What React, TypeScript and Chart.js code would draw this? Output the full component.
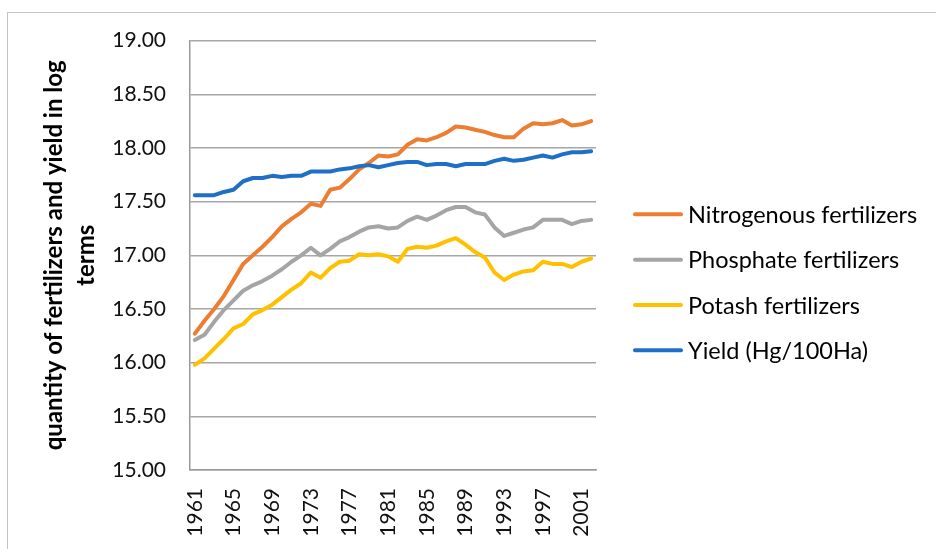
import React, { useEffect, useRef } from 'react';
import { Chart, registerables } from 'chart.js';

Chart.register(...registerables);

const years = [
  '1961', '1962', '1963', '1964', '1965', '1966', '1967', '1968', '1969', '1970',
  '1971', '1972', '1973', '1974', '1975', '1976', '1977', '1978', '1979', '1980',
  '1981', '1982', '1983', '1984', '1985', '1986', '1987', '1988', '1989', '1990',
  '1991', '1992', '1993', '1994', '1995', '1996', '1997', '1998', '1999', '2000',
  '2001', '2002',
];

const nitrogenous = [
  16.27, 16.39, 16.50, 16.62, 16.77, 16.92, 17.00, 17.08, 17.17, 17.27,
  17.34, 17.40, 17.48, 17.46, 17.61, 17.63, 17.71, 17.80, 17.86, 17.93,
  17.92, 17.94, 18.03, 18.08, 18.07, 18.10, 18.14, 18.20, 18.19, 18.17,
  18.15, 18.12, 18.10, 18.10, 18.18, 18.23, 18.22, 18.23, 18.26, 18.21,
  18.22, 18.25,
];

const phosphate = [
  16.21, 16.26, 16.38, 16.49, 16.58, 16.67, 16.72, 16.76, 16.81, 16.87,
  16.94, 17.00, 17.07, 17.00, 17.06, 17.13, 17.17, 17.22, 17.26, 17.27,
  17.25, 17.26, 17.32, 17.36, 17.33, 17.37, 17.42, 17.45, 17.45, 17.40,
  17.38, 17.26, 17.18, 17.21, 17.24, 17.26, 17.33, 17.33, 17.33, 17.29,
  17.32, 17.33,
];

const potash = [
  15.98, 16.04, 16.13, 16.22, 16.32, 16.36, 16.45, 16.49, 16.54, 16.61,
  16.68, 16.74, 16.84, 16.79, 16.88, 16.94, 16.95, 17.01, 17.00, 17.01,
  16.99, 16.94, 17.06, 17.08, 17.07, 17.09, 17.13, 17.16, 17.10, 17.03,
  16.98, 16.84, 16.77, 16.82, 16.85, 16.86, 16.94, 16.92, 16.92, 16.89,
  16.94, 16.97,
];

const yieldHg = [
  17.56, 17.56, 17.56, 17.59, 17.61, 17.69, 17.72, 17.72, 17.74, 17.73,
  17.74, 17.74, 17.78, 17.78, 17.78, 17.80, 17.81, 17.83, 17.84, 17.82,
  17.84, 17.86, 17.87, 17.87, 17.84, 17.85, 17.85, 17.83, 17.85, 17.85,
  17.85, 17.88, 17.90, 17.88, 17.89, 17.91, 17.93, 17.91, 17.94, 17.96,
  17.96, 17.97,
];

const seriesLabels = [
  'Nitrogenous fertilizers',
  'Phosphate fertilizers',
  'Potash fertilizers',
  'Yield (Hg/100Ha)',
];
const seriesColors = ['#ED7D31', '#A5A5A5', '#FFC000', '#1F6FC6'];
const yTitle = ['quantity of fertilizers and yield in log', 'terms'];

const FONT = 'Lato';

const sideLegend = {
  id: 'sideLegend',
  afterDraw(chart: any) {
    const { ctx, chartArea } = chart;
    const ds = chart.data.datasets;
    const x0 = chartArea.right + 37;
    const cy = (chartArea.top + chartArea.bottom) / 2 + 27;
    const gap = 45.3;
    ctx.save();
    ctx.font = `23.5px ${FONT}`;
    ctx.textBaseline = 'middle';
    ctx.textAlign = 'left';
    ds.forEach((d: any, i: number) => {
      const y = cy + (i - (ds.length - 1) / 2) * gap;
      ctx.strokeStyle = d.borderColor;
      ctx.lineWidth = 4;
      ctx.lineCap = 'round';
      ctx.beginPath();
      ctx.moveTo(x0 + 2, y);
      ctx.lineTo(x0 + 48, y);
      ctx.stroke();
      ctx.fillStyle = '#000';
      ctx.fillText(d.label, x0 + 55, y + 1);
    });
    ctx.restore();
  },
};

export default function App() {
  const ref = useRef<HTMLCanvasElement | null>(null);

  useEffect(() => {
    if (!ref.current) return;
    const data = [nitrogenous, phosphate, potash, yieldHg];
    const chart = new Chart(ref.current, {
      type: 'line',
      data: {
        labels: years,
        datasets: data.map((values, i) => ({
          label: seriesLabels[i],
          data: values,
          borderColor: seriesColors[i],
          backgroundColor: seriesColors[i],
          borderWidth: 4,
          pointRadius: 0,
          pointHoverRadius: 0,
          tension: 0,
          fill: false,
          borderJoinStyle: 'round',
          borderCapStyle: 'round',
          order: data.length - i,
        })),
      },
      options: {
        responsive: false,
        animation: false,
        events: [],
        layout: { padding: { left: 30, top: 19, right: 340, bottom: 0 } },
        plugins: {
          legend: { display: false },
          tooltip: { enabled: false },
          title: { display: false },
        },
        scales: {
          x: {
            type: 'category',
            offset: true,
            grid: { display: false, drawTicks: false },
            border: { display: true, color: '#999999', width: 1.5 },
            ticks: {
              autoSkip: false,
              maxRotation: 90,
              minRotation: 90,
              padding: 18,
              color: '#111',
              font: { family: FONT, size: 21 },
              callback: function (this: any, v: any, i: number) {
                return i % 4 === 0 ? this.getLabelForValue(v) : '';
              },
            },
            afterFit: (s: any) => {
              s.height = 78;
            },
          },
          y: {
            min: 15,
            max: 19,
            grid: { color: '#a6a6a6', lineWidth: 1.5, drawTicks: false },
            border: { display: true, color: '#999999', width: 1.5 },
            ticks: {
              stepSize: 0.5,
              padding: 24,
              color: '#111',
              font: { family: FONT, size: 21 },
              callback: (v: any) => Number(v).toFixed(2),
            },
            title: {
              display: true,
              text: yTitle,
              color: '#000',
              font: { family: FONT, size: 24, weight: 'bold', lineHeight: '32px' },
              padding: { top: 0, bottom: 0 },
            },
            afterFit: (s: any) => {
              s.width = 152;
            },
          },
        },
      },
      plugins: [sideLegend],
    } as any);
    return () => chart.destroy();
  }, []);

  return (
    <div
      style={{
        position: 'fixed',
        left: 7,
        top: 12,
        width: 940,
        height: 540,
        borderTop: '1px solid #c4c4c4',
        borderLeft: '1px solid #c4c4c4',
        background: '#fff',
      }}
    >
      <canvas
        ref={ref}
        width={928}
        height={544}
        style={{ display: 'block', position: 'absolute', left: 0, top: -9 }}
      />
    </div>
  );
}
